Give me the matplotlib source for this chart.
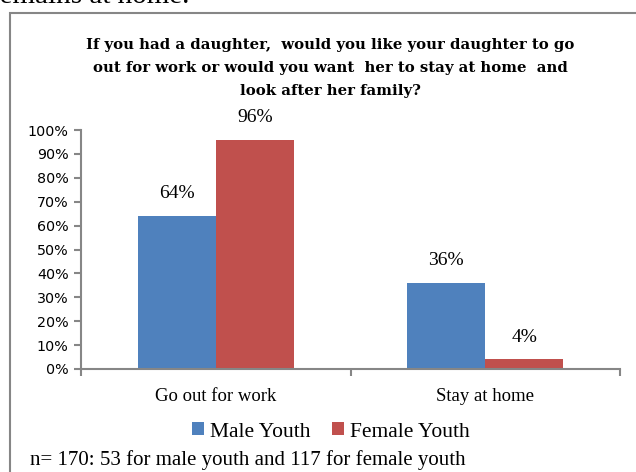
import numpy as np
import matplotlib.pyplot as plt
from matplotlib.patches import Rectangle

categories = ["Go out for work", "Stay at home"]
male = [0.64, 0.36]
female = [0.96, 0.04]
series_names = ["Male Youth", "Female Youth"]
yticks = [0, 0.1, 0.2, 0.3, 0.4, 0.5, 0.6, 0.7, 0.8, 0.9, 1.0]

title = ("If you had a daughter,  would you like your daughter to go\n"
         "out for work or would you want  her to stay at home  and\n"
         "look after her family?")
note = "n= 170: 53 for male youth and 117 for female youth"

blue = "#4F81BD"
red = "#C0504D"
grey = "#868686"
serif = "Liberation Serif"

fig = plt.figure(figsize=(6.36, 4.72), dpi=100)

# chart frame (runs off the right and bottom of the crop)
fig.patches.append(Rectangle((9.5 / 636, -0.05), 1.0, 1 - 12.5 / 472 + 0.05,
                             transform=fig.transFigure, fill=False,
                             edgecolor=grey, linewidth=1.5))
# text of the page above the chart, cut off
fig.text(-0.016, 1 - 3 / 472, "remains at home.", family=serif, fontsize=21,
         va="baseline", ha="left")

ax = fig.add_axes([81 / 636, 103 / 472, 539 / 636, 239 / 472])
x = np.arange(len(categories))
w = 0.29
b1 = ax.bar(x - w / 2, male, w, color=blue, label=series_names[0])
b2 = ax.bar(x + w / 2, female, w, color=red, label=series_names[1])

for bars in (b1, b2):
    for r in bars:
        ax.annotate(f"{r.get_height() * 100:.0f}%",
                    (r.get_x() + r.get_width() / 2, r.get_height()),
                    xytext=(0, 10), textcoords="offset points",
                    ha="center", va="bottom", family=serif, fontsize=14)

ax.set_xlim(-0.5, 1.5)
ax.set_ylim(0, 1)
ax.set_yticks(yticks)
ax.set_yticklabels([f"{v * 100:.0f}%" for v in yticks], fontsize=10.3)
ax.set_xticks([-0.5, 0.5, 1.5])
ax.set_xticklabels([])
ax.set_xticks(x, minor=True)
ax.set_xticklabels(categories, minor=True, family=serif, fontsize=13.5)
ax.tick_params(axis="x", which="minor", length=0, pad=14)
ax.tick_params(axis="x", which="major", length=5, color=grey, width=1.5)
ax.tick_params(axis="y", length=5, color=grey, width=1.5, pad=4)
for s in ["top", "right"]:
    ax.spines[s].set_visible(False)
for s in ["left", "bottom"]:
    ax.spines[s].set_color(grey)
    ax.spines[s].set_linewidth(1.5)

fig.text(330 / 636, 1 - 38.5 / 472, title, ha="center", va="top",
         family="DejaVu Serif", fontweight="bold", fontsize=10.75,
         linespacing=1.78)

fig.legend(loc="center", bbox_to_anchor=(331 / 636, 1 - 432 / 472), ncol=2,
           frameon=False, prop={"family": serif, "size": 15.5},
           handlelength=0.55, handleheight=0.55, handletextpad=0.3,
           columnspacing=1.0)

fig.text(30 / 636, 1 - 460 / 472, note, ha="left", va="center",
         family=serif, fontsize=15)

fig.savefig("out.png", dpi=100)
